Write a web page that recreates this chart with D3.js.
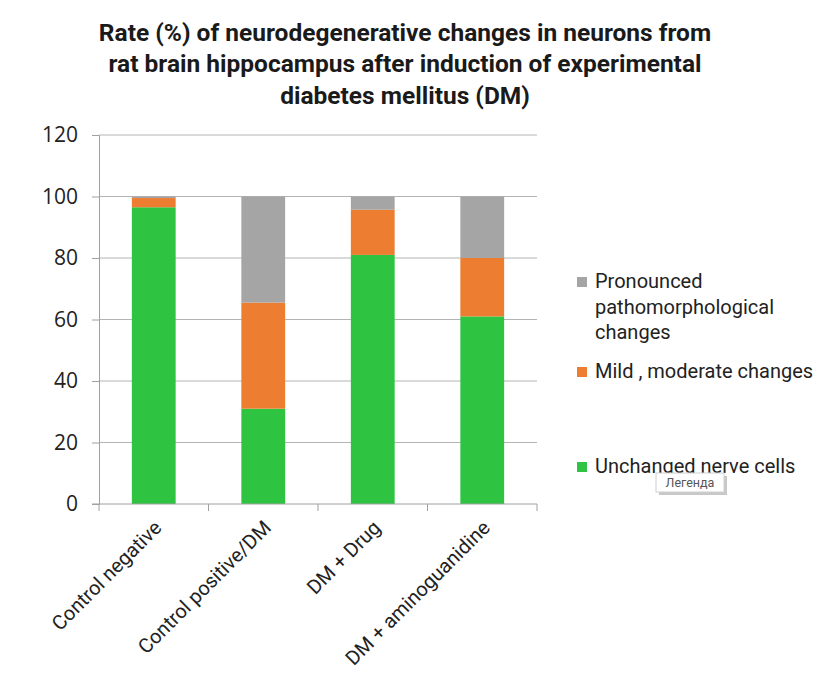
<!DOCTYPE html>
<html>
<head>
<meta charset="utf-8">
<script src="https://cdn.jsdelivr.net/npm/d3@7"></script>
<style>
  body { margin: 0; background: #fff; }
  svg { font-family: Roboto, "Noto Sans", sans-serif; }
</style>
</head>
<body>
<svg width="826" height="689"></svg>
<script>
let groups = ['Control negative', 'Control positive/DM', 'DM + Drug', 'DM + aminoguanidine']
let unchanged = [96.5, 31, 81, 61]
let mild = [3, 34.5, 14.7, 19]
let pronounced = [0.5, 34.5, 4.3, 20]
let seriesNames = ['Unchanged nerve cells', 'Mild , moderate changes', 'Pronounced pathomorphological changes']
let seriesColors = ['#2ec441', '#ed7d31', '#a5a5a5']
let yTicks = [0, 20, 40, 60, 80, 100, 120]
let titleLines = ['Rate (%) of neurodegenerative changes in neurons from',
                  'rat brain hippocampus after induction of experimental',
                  'diabetes mellitus (DM)']

let svg = d3.select('svg')
let plotLeft = 99, plotRight = 537, plotTop = 135, plotBottom = 504

let rows = groups.map((g, i) => ({group: g, s0: unchanged[i], s1: mild[i], s2: pronounced[i]}))
let stack = d3.stack().keys(['s0', 's1', 's2'])(rows)

let x = d3.scaleBand().domain(groups).range([plotLeft, plotRight]).paddingInner(0.6).paddingOuter(0.3)
let xEdge = d3.scaleLinear().domain([0, groups.length]).range([plotLeft, plotRight])
let y = d3.scaleLinear().domain([0, 120]).range([plotBottom, plotTop])

// title
svg.append('g').selectAll('text')
    .data(titleLines)
    .enter()
    .append('text')
    .attr('x', 405)
    .attr('y', (d, i) => 40.5 + i * 31.5)
    .attr('text-anchor', 'middle')
    .attr('font-size', 24.5)
    .attr('font-weight', 'bold')
    .attr('fill', '#1a1a1a')
    .text(d => d)

// gridlines
svg.append('g').selectAll('line')
    .data(yTicks.filter(d => d > 0))
    .enter()
    .append('line')
    .attr('x1', plotLeft).attr('x2', plotRight)
    .attr('y1', d => y(d)).attr('y2', d => y(d))
    .attr('stroke', '#b4b4b4')
    .attr('stroke-width', 1)

// y axis
let yAxis = svg.append('g')
    .attr('transform', `translate(${plotLeft},0)`)
    .call(d3.axisLeft(y).tickValues(yTicks).tickSize(7).tickPadding(14))
yAxis.select('.domain').attr('stroke', '#a0a0a0')
yAxis.selectAll('.tick line').attr('stroke', '#a0a0a0')
yAxis.selectAll('.tick text').attr('font-size', 21).attr('fill', '#222')
    .attr('font-family', '"Open Sans", sans-serif')

// bars
svg.append('g').selectAll('g')
    .data(stack)
    .enter()
    .append('g')
    .attr('fill', (d, i) => seriesColors[i])
    .selectAll('rect')
    .data(d => d)
    .enter()
    .append('rect')
    .attr('x', d => x(d.data.group))
    .attr('width', x.bandwidth())
    .attr('y', d => y(d[1]))
    .attr('height', d => y(d[0]) - y(d[1]))

// x axis
let xg = svg.append('g')
xg.append('line')
    .attr('x1', plotLeft - 7).attr('x2', plotRight)
    .attr('y1', plotBottom).attr('y2', plotBottom)
    .attr('stroke', '#a0a0a0')
xg.selectAll('line.tk')
    .data(d3.range(groups.length + 1))
    .enter()
    .append('line')
    .attr('class', 'tk')
    .attr('x1', d => xEdge(d)).attr('x2', d => xEdge(d))
    .attr('y1', plotBottom).attr('y2', plotBottom + 7)
    .attr('stroke', '#a0a0a0')
xg.selectAll('text')
    .data(groups)
    .enter()
    .append('text')
    .attr('transform', d => `translate(${x(d) + x.bandwidth() / 2 + 9},${plotBottom + 25}) rotate(-45)`)
    .attr('text-anchor', 'end')
    .attr('font-size', 20)
    .attr('fill', '#222')
    .text(d => d)

// legend
let legendItems = [
    {lines: ['Pronounced', 'pathomorphological', 'changes'], color: seriesColors[2], y: 288},
    {lines: ['Mild , moderate changes'], color: seriesColors[1], y: 378},
    {lines: ['Unchanged nerve cells'], color: seriesColors[0], y: 473}
]
let lg = svg.append('g').selectAll('g')
    .data(legendItems)
    .enter()
    .append('g')
lg.append('rect')
    .attr('x', 577).attr('y', d => d.y - 11)
    .attr('width', 10).attr('height', 10)
    .attr('fill', d => d.color)
lg.selectAll('text')
    .data(d => d.lines.map((l, i) => ({l: l, y: d.y + i * 25.5})))
    .enter()
    .append('text')
    .attr('x', 595)
    .attr('y', d => d.y)
    .attr('font-size', 20)
    .attr('fill', '#222')
    .text(d => d.l)

// tooltip box
let tip = svg.append('g')
tip.append('rect')
    .attr('x', 659).attr('y', 476).attr('width', 68).attr('height', 19)
    .attr('fill', '#c8c8c8')
tip.append('rect')
    .attr('x', 656).attr('y', 473).attr('width', 68).attr('height', 19)
    .attr('fill', '#fff').attr('stroke', '#cfcfcf')
tip.append('text')
    .attr('x', 690).attr('y', 487)
    .attr('text-anchor', 'middle')
    .attr('font-size', 12.5)
    .attr('fill', '#555')
    .text('Легенда')
</script>
</body>
</html>
